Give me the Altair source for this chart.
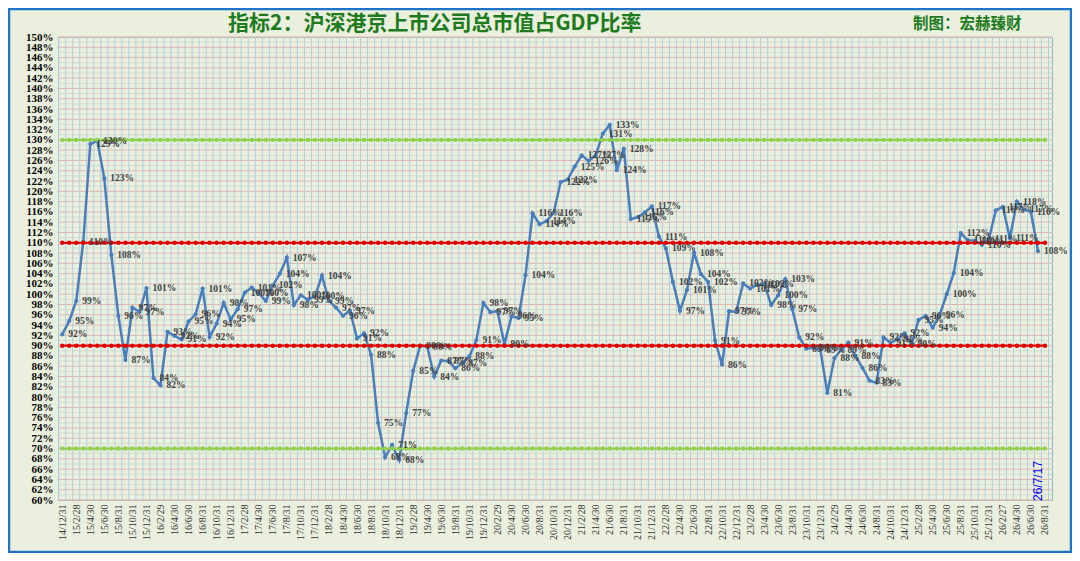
import altair as alt
import pandas as pd

# ---- data ----
ratio_values = [
    92.2, 94.8, 98.7, 110.2, 129.2, 129.8, 122.5, 107.6, 95.8, 87.2,
    97.4, 96.6, 101.2, 83.7, 82.3, 92.7, 91.9, 91.2, 94.7, 96.1,
    101.1, 91.7, 94.3, 98.3, 95.1, 97.1, 100.3, 101.3, 100.2, 98.7,
    101.7, 104.0, 107.1, 97.9, 99.8, 98.9, 99.6, 103.6, 98.7, 97.4,
    95.8, 96.8, 91.4, 92.4, 88.2, 75.0, 68.3, 70.7, 67.8, 76.9,
    85.1, 90.0, 89.8, 84.0, 87.1, 87.0, 85.6, 86.6, 87.9, 91.1,
    98.3, 96.5, 96.7, 90.3, 95.7, 95.4, 103.7, 115.7, 113.6, 114.2,
    115.8, 121.8, 122.3, 124.8, 127.0, 125.9, 127.0, 131.2, 132.9, 124.1,
    128.3, 114.6, 115.0, 115.9, 117.1, 111.2, 108.9, 102.4, 96.8, 100.8,
    108.1, 103.9, 102.4, 91.0, 86.3, 96.7, 96.6, 102.1, 101.1, 101.8,
    102.0, 97.9, 99.8, 102.9, 97.1, 91.6, 89.4, 89.6, 89.2, 80.8,
    87.6, 89.2, 90.6, 88.0, 85.7, 83.2, 82.8, 91.6, 90.6, 91.2,
    92.4, 90.4, 95.0, 95.8, 93.5, 96.0, 100.0, 104.1, 111.9, 110.5,
    110.4, 109.6, 110.7, 116.3, 117.0, 110.9, 118.0, 116.5, 116.0, 108.4,
]

x_tick_labels = [
    "14/12/31",
    "15/2/28", "15/4/30", "15/6/30", "15/8/31", "15/10/31", "15/12/31",
    "16/2/29", "16/4/30", "16/6/30", "16/8/31", "16/10/31", "16/12/31",
    "17/2/28", "17/4/30", "17/6/30", "17/8/31", "17/10/31", "17/12/31",
    "18/2/28", "18/4/30", "18/6/30", "18/8/31", "18/10/31", "18/12/31",
    "19/2/28", "19/4/30", "19/6/30", "19/8/31", "19/10/31", "19/12/31",
    "20/2/29", "20/4/30", "20/6/30", "20/8/31", "20/10/31", "20/12/31",
    "21/2/28", "21/4/30", "21/6/30", "21/8/31", "21/10/31", "21/12/31",
    "22/2/28", "22/4/30", "22/6/30", "22/8/31", "22/10/31", "22/12/31",
    "23/2/28", "23/4/30", "23/6/30", "23/8/31", "23/10/31", "23/12/31",
    "24/2/29", "24/4/30", "24/6/30", "24/8/31", "24/10/31", "24/12/31",
    "25/2/28", "25/4/30", "25/6/30", "25/8/31", "25/10/31", "25/12/31",
    "26/2/27", "26/4/30", "26/6/30", "26/8/31",
]

red_levels = [90, 110]
green_levels = [70, 130]

title_text = "指标2：沪深港京上市公司总市值占GDP比率"
credit_text = "制图：宏赫臻财"
latest_date = "26/7/17"

# ---- derived tables ----
n_cats = len(x_tick_labels) * 2 - 1  # 141 monthly categories
series = pd.DataFrame({"i": list(range(len(ratio_values))), "v": ratio_values})


def guide_table(levels):
    return pd.DataFrame([{"i": i, "v": lv, "lvl": lv} for lv in levels for i in range(n_cats)])


red_guides = guide_table(red_levels)
green_guides = guide_table(green_levels)

vgrid = pd.DataFrame({"gx": [k - 0.5 for k in range(n_cats + 1)]})
hgrid_major = pd.DataFrame({"gy": list(range(60, 151, 2))})
hgrid_minor = pd.DataFrame({"gy": list(range(61, 150, 2))})

latest = pd.DataFrame({"i": [len(ratio_values) - 1], "v": [63.7], "t": [latest_date]})

GREEN_TXT = "#1D7A1D"
BLUE = "#4A7EBB"
RED = "#E00000"
LIME = "#92D050"

label_js = "[" + ",".join("'" + s + "'" for s in x_tick_labels) + "]"

xscale = alt.Scale(domain=[-0.6, 141.0], nice=False, zero=False)
yscale = alt.Scale(domain=[60, 150], nice=False, zero=False)

xaxis = alt.Axis(
    values=list(range(0, n_cats, 2)),
    labelExpr=label_js + "[round(datum.value / 2)]",
    labelAngle=270,
    labelFont="Liberation Serif",
    labelFontSize=10,
    labelColor="#333333",
    labelPadding=4,
    labelOverlap=False,
    labelBound=False,
    grid=False,
    ticks=False,
    domain=False,
    title=None,
)
yaxis = alt.Axis(
    values=list(range(60, 151, 2)),
    labelExpr="datum.value + '%'",
    labelFont="Liberation Serif",
    labelFontWeight="bold",
    labelFontSize=11,
    labelColor="#000000",
    labelPadding=5,
    labelOverlap=False,
    grid=False,
    ticks=False,
    domain=False,
    title=None,
)


def X(field):
    return alt.X(field, type="quantitative", scale=xscale, axis=xaxis)


def Y(field):
    return alt.Y(field, type="quantitative", scale=yscale, axis=yaxis)


vlines = alt.Chart(vgrid).mark_rule(color="#A9D0E2", strokeWidth=1).encode(x=X("gx"))
hlines_minor = alt.Chart(hgrid_minor).mark_rule(color="#D8DCCB", strokeWidth=1).encode(y=Y("gy"))
hlines_major = alt.Chart(hgrid_major).mark_rule(color="#E6B3A8", strokeWidth=1).encode(y=Y("gy"))


def guide_layers(df, color):
    ln = alt.Chart(df).mark_line(color=color, strokeWidth=2.2).encode(
        x=X("i"), y=Y("v"), detail="lvl:N")
    pt = alt.Chart(df).mark_point(color=color, filled=True, size=20, opacity=1).encode(
        x=X("i"), y=Y("v"))
    return [ln, pt]


line = alt.Chart(series).mark_line(color=BLUE, strokeWidth=2.5).encode(x=X("i"), y=Y("v"))
pts = alt.Chart(series).mark_point(color=BLUE, filled=True, size=18, opacity=1).encode(
    x=X("i"), y=Y("v"))

labels = alt.Chart(series).transform_calculate(
    lab="format(datum.v, '.0f') + '%'"
).mark_text(
    align="left", baseline="middle", dx=6,
    font="Liberation Serif", fontWeight="bold", fontSize=9.5, color="#404040",
).encode(x=X("i"), y=Y("v"), text="lab:N")

latest_txt = alt.Chart(latest).mark_text(
    angle=270, color="#0000FF", font="Liberation Sans", fontSize=12,
    align="center", baseline="middle",
).encode(x=X("i"), y=Y("v"), text="t:N")

title_mark = alt.Chart(pd.DataFrame({"t": [title_text]})).mark_text(
    align="left", baseline="middle", font="Noto Sans CJK SC", fontWeight="bold",
    fontSize=21, color=GREEN_TXT,
).encode(x=alt.value(170), y=alt.value(-13), text="t:N")

credit_mark = alt.Chart(pd.DataFrame({"t": [credit_text]})).mark_text(
    align="left", baseline="middle", font="Noto Sans CJK SC", fontWeight="bold",
    fontSize=15.5, color=GREEN_TXT,
).encode(x=alt.value(855), y=alt.value(-13), text="t:N")

frame = alt.Chart(pd.DataFrame({"a": [0]})).mark_rect(
    fillOpacity=0, stroke="#1F74C8", strokeWidth=2.5,
).encode(x=alt.value(-49), x2=alt.value(1013), y=alt.value(-28), y2=alt.value(515))

layers = [hlines_minor, hlines_major, vlines, line, pts]
layers += guide_layers(red_guides, RED)
layers += guide_layers(green_guides, LIME)
layers += [labels, latest_txt, title_mark, credit_mark, frame]

chart = alt.layer(*layers).properties(
    width=994, height=463,
    autosize=alt.AutoSizeParams(type="none"),
    padding={"left": 50, "top": 29, "right": 20, "bottom": 53},
    background="#EBF0DE",
).configure_view(stroke="#9DB4C4", strokeWidth=1)

chart.save("out.html", embed_options={"renderer": "svg", "actions": False})
